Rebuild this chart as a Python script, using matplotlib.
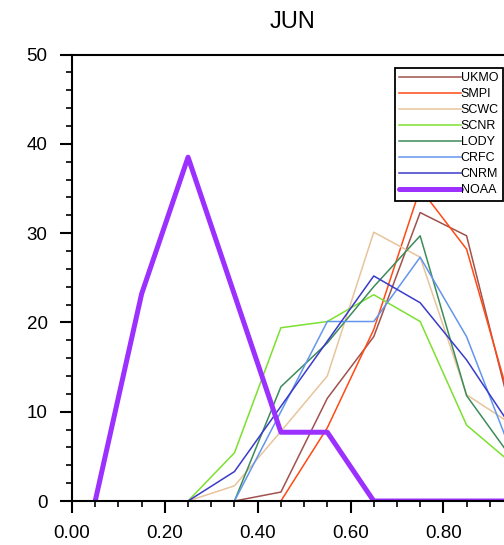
import matplotlib
matplotlib.use("Agg")
import matplotlib.pyplot as plt
from matplotlib.ticker import MultipleLocator

plt.rcParams["font.family"] = ["Liberation Sans", "DejaVu Sans"]

# bin centres
x_values = [0.05, 0.15, 0.25, 0.35, 0.45, 0.55, 0.65, 0.75, 0.85, 0.95]

ukmo = [0, 0, 0, 0, 1.0, 11.5, 18.4, 32.3, 29.7, 9.0]
smpi = [0, 0, 0, 0, 0, 8.2, 19.2, 35.0, 28.2, 10.0]
scwc = [0, 0, 0, 1.7, 7.8, 14.0, 30.1, 27.3, 11.9, 8.5]
scnr = [0, 0, 0, 5.4, 19.4, 20.1, 23.1, 20.1, 8.5, 4.1]
lody = [0, 0, 0, 0, 12.8, 17.7, 24.0, 29.7, 11.8, 4.6]
crfc = [0, 0, 0, 0, 10.0, 20.1, 20.1, 27.3, 18.4, 5.0]
cnrm = [0, 0, 0, 3.3, 10.6, 17.9, 25.2, 22.2, 15.8, 8.0]
noaa = [0, 23.2, 38.5, 23.1, 7.7, 7.7, 0, 0, 0, 0]

names = ["UKMO", "SMPI", "SCWC", "SCNR", "LODY", "CRFC", "CNRM"]
series = [ukmo, smpi, scwc, scnr, lody, crfc, cnrm]
colors = ["#A0524D", "#FF4A14", "#E8C49C", "#7CE030", "#3C8C5A", "#6495ED", "#3A3ACB"]

fig = plt.figure(figsize=(5.04, 5.45), dpi=100)
ax = fig.add_axes([72 / 504, 44 / 545, 441 / 504, 446.5 / 545])

for name, vals, col in zip(names, series, colors):
    ax.plot(x_values, vals, color=col, linewidth=1.1, label=name)
ax.plot(x_values, noaa, color="#9B30FF", linewidth=3.6, label="NOAA",
        solid_capstyle="round")

ax.set_xlim(0, 0.95)
ax.set_ylim(0, 50)
ax.xaxis.set_major_locator(MultipleLocator(0.2))
ax.xaxis.set_minor_locator(MultipleLocator(0.05))
ax.yaxis.set_major_locator(MultipleLocator(10))
ax.yaxis.set_minor_locator(MultipleLocator(2))
ax.xaxis.set_major_formatter(lambda v, p: "%.2f" % v)

for s in ax.spines.values():
    s.set_linewidth(1.5)
ax.tick_params(which="major", direction="out", length=8.5, width=1.5,
               labelsize=13.5, top=False, right=False)
ax.tick_params(which="minor", direction="out", length=4.3, width=1.2,
               top=False, right=False)
ax.tick_params(axis="y", which="major", pad=9)
ax.tick_params(axis="x", which="major", pad=9)

ax.set_title("JUN", fontsize=17, pad=19)

leg = ax.legend(loc="upper right", bbox_to_anchor=(503 / 504, 1 - 68 / 545),
                bbox_transform=fig.transFigure, borderaxespad=0,
                fontsize=9, handlelength=4.9, handletextpad=0.0,
                labelspacing=0.32, borderpad=0.35, fancybox=False,
                framealpha=1, edgecolor="black")
leg.get_frame().set_linewidth(1.3)

plt.savefig("out.png", dpi=100)
